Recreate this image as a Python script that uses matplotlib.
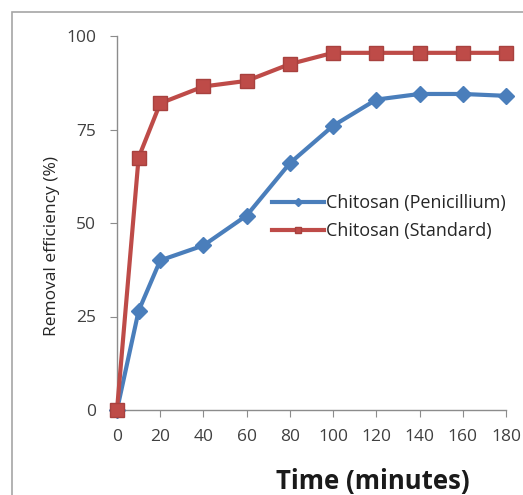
import matplotlib
matplotlib.use('Agg')
import matplotlib.pyplot as plt
from matplotlib.patches import Rectangle

# Data
time_min = [0, 10, 20, 40, 60, 80, 100, 120, 140, 160, 180]
penicillium = [0, 26.5, 40, 44, 52, 66, 76, 83, 84.5, 84.5, 84]
standard = [0, 67.5, 82, 86.5, 88, 92.5, 95.5, 95.5, 95.5, 95.5, 95.5]
x_ticks = [0, 20, 40, 60, 80, 100, 120, 140, 160, 180]
y_ticks = [0, 25, 50, 75, 100]

blue = '#4A7EBB'
red = '#BE4B48'
grey_txt = '#404040'

plt.rcParams['font.family'] = ['Open Sans', 'DejaVu Sans']

fig = plt.figure(figsize=(5.23, 4.95), dpi=100)
ax = fig.add_axes([117/523, 1 - 410/495, (506 - 117)/523, (410 - 36)/495])

# outer chart frame
fig.patches.append(Rectangle((12/523, -0.05), 1.2, 1 - 12/495 + 0.05, transform=fig.transFigure,
                             fill=False, edgecolor='#A6A6A6', linewidth=1.2))

ax.plot(time_min, penicillium, color=blue, linewidth=3, marker='D', markersize=8,
        markerfacecolor=blue, markeredgecolor=blue, solid_joinstyle='round',
        label='Chitosan (Penicillium)', clip_on=False, zorder=3)
ax.plot(time_min, standard, color=red, linewidth=3, marker='s', markersize=10.5,
        markerfacecolor=red, markeredgecolor='#A8413E', solid_joinstyle='round',
        label='Chitosan (Standard)', clip_on=False, zorder=4)

ax.set_xlim(0, 180)
ax.set_ylim(0, 100)
ax.set_xticks(x_ticks)
ax.set_yticks(y_ticks)
for s in ['top', 'right']:
    ax.spines[s].set_visible(False)
for s in ['left', 'bottom']:
    ax.spines[s].set_color('#8C8C8C')
    ax.spines[s].set_linewidth(1)
ax.tick_params(direction='out', length=5, color='#8C8C8C', labelsize=12.5,
               labelcolor=grey_txt)
ax.tick_params(axis='x', pad=9)
ax.tick_params(axis='y', pad=10)
ax.patch.set_alpha(0)

leg = ax.legend(loc='center left', bbox_to_anchor=(0.38, 0.516), frameon=False,
                fontsize=13, handlelength=2.9, handletextpad=0.1, labelspacing=0.55,
                markerscale=0.45, borderaxespad=0)
for t in leg.get_texts():
    t.set_color('#262626')

fig.text(52/523, 1 - 246/495, 'Removal efficiency (%)', rotation=90, ha='center',
         va='center', fontsize=12.5, color='#262626')
fig.text(373/523, 1 - 482/495, 'Time (minutes)', ha='center', va='center',
         fontsize=18.5, fontweight='bold', color='#1A1A1A')

fig.savefig('out.png', dpi=100)
